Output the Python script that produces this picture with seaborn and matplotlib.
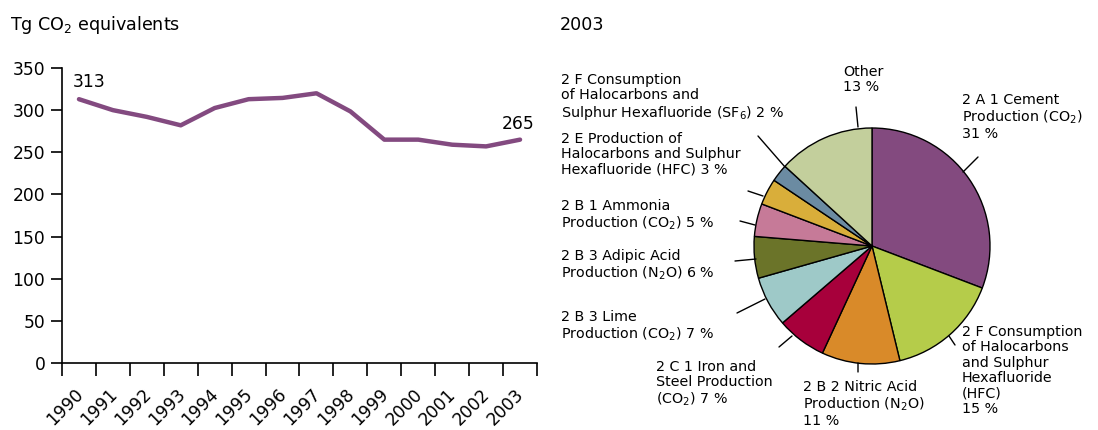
import numpy as np
import pandas as pd
import seaborn as sns
import matplotlib.pyplot as plt
from matplotlib.transforms import ScaledTranslation

# Line chart data (Tg CO2 equivalents)
years = ['1990', '1991', '1992', '1993', '1994', '1995', '1996',
         '1997', '1998', '1999', '2000', '2001', '2002', '2003']
emissions = [313, 300, 292, 282, 302.5, 313, 314.5, 320, 298.5, 265, 265, 259, 257, 265]

# Pie chart data (2003 shares, %)
pie_labels = [
    '2 A 1 Cement\nProduction (CO$_2$)\n31 %',
    '2 F Consumption\nof Halocarbons\nand Sulphur\nHexafluoride\n(HFC)\n15 %',
    '2 B 2 Nitric Acid\nProduction (N$_2$O)\n11 %',
    '2 C 1 Iron and\nSteel Production\n(CO$_2$) 7 %',
    '2 B 3 Lime\nProduction (CO$_2$) 7 %',
    '2 B 3 Adipic Acid\nProduction (N$_2$O) 6 %',
    '2 B 1 Ammonia\nProduction (CO$_2$) 5 %',
    '2 E Production of\nHalocarbons and Sulphur\nHexafluoride (HFC) 3 %',
    '2 F Consumption\nof Halocarbons and\nSulphur Hexafluoride (SF$_6$) 2 %',
    'Other\n13 %',
]
pie_shares = [30.8, 15.4, 10.7, 6.8, 6.9, 5.7, 4.5, 3.6, 2.4, 13.2]
pie_colors = ['#834a7f', '#b5cc4a', '#d98a29', '#a7003b', '#9ec9c8',
              '#6b7429', '#c67a98', '#d9ae3a', '#6b8ba2', '#c3cf9c']

# label placement (figure pixels from top-left) and leader lines
label_pos = [(962, 93), (962, 325), (803, 380), (656, 360), (561, 310),
             (561, 249), (561, 199), (561, 132), (561, 73), (843, 65)]
leader_start = [(963, 172), (949, 336), (858, 363), (792, 336), (765, 299),
                (756, 259), (755, 225), (763, 196), (785, 167), (858, 127)]
leader_end = [(978, 157), (955, 345), (858, 372), (779, 347), (737, 313),
              (735, 261), (740, 221), (748, 191), (758, 136), (856, 107)]

W, H = 1098, 430
sns.set_style('ticks')
plt.rcParams['font.family'] = ['DejaVu Sans']
plt.rcParams['mathtext.fontset'] = 'dejavusans'
plt.rcParams['text.color'] = 'black'
plt.rcParams['xtick.color'] = 'black'
plt.rcParams['ytick.color'] = 'black'

fig = plt.figure(figsize=(W / 100, H / 100), dpi=100)

# ---- line chart ----
ax = fig.add_axes([62 / W, 1 - 363 / H, 475 / W, 295 / H])
df = pd.DataFrame({'year': years, 'value': emissions})
df['pos'] = np.arange(len(years))
sns.lineplot(data=df, x='pos', y='value', ax=ax, color='#834a80', lw=3.2)
ax.set_xlim(-0.5, len(years) - 0.5)
ax.set_ylim(0, 350)
ax.set_yticks(range(0, 351, 50))
ax.set_xticks(df['pos'])
ax.set_xticklabels(years, rotation=45, ha='right', rotation_mode='anchor')
ax.set_xticks(np.arange(-0.5, len(years)), minor=True)
ax.tick_params(axis='x', which='major', bottom=True, length=0, pad=16, labelsize=12.3)
ax.tick_params(axis='x', which='minor', bottom=True, length=9, width=1.2, direction='out')
ax.tick_params(axis='y', left=True, length=8, width=1.2, direction='out', labelsize=12.3, pad=4)
shift = ScaledTranslation(-5 / 100, 0, fig.dpi_scale_trans)
for t in ax.get_xticklabels():
    t.set_transform(t.get_transform() + shift)
ax.set_xlabel('')
ax.set_ylabel('')
sns.despine(ax=ax)
for s in ['left', 'bottom']:
    ax.spines[s].set_color('black')
    ax.spines[s].set_linewidth(1.2)

ax.annotate(str(emissions[0]), xy=(0, emissions[0]), xytext=(10, 17),
            textcoords='offset pixels', ha='center', va='center', fontsize=12.3)
ax.annotate(str(emissions[-1]), xy=(len(years) - 1, emissions[-1]), xytext=(-2, 16),
            textcoords='offset pixels', ha='center', va='center', fontsize=12.3)

fig.text(10 / W, 1 - 25 / H, 'Tg CO$_2$ equivalents', fontsize=12.6, va='center', ha='left')
fig.text(560 / W, 1 - 25 / H, '2003', fontsize=12.6, va='center', ha='left')

# ---- pie chart ----
cx, cy, r = 872, 246, 118
pax = fig.add_axes([(cx - r) / W, 1 - (cy + r) / H, 2 * r / W, 2 * r / H])
wedges, _ = pax.pie(pie_shares, colors=pie_colors, startangle=90, counterclock=False,
                    wedgeprops=dict(edgecolor='black', linewidth=1.0))
pax.set_xlim(-1, 1)
pax.set_ylim(-1, 1)
pax.set_aspect('equal')

for lab, (tx, ty), (sx, sy), (lx, ly) in zip(pie_labels, label_pos, leader_start, leader_end):
    pax.annotate('', xy=(sx, H - sy), xycoords='figure pixels',
                 xytext=(lx, H - ly), textcoords='figure pixels',
                 arrowprops=dict(arrowstyle='-', lw=1.0, color='black',
                                 shrinkA=0, shrinkB=0))
    fig.text(tx / W, 1 - ty / H, lab, fontsize=10.3, ha='left', va='top',
             linespacing=1.12)

fig.savefig('out.png', dpi=100)
